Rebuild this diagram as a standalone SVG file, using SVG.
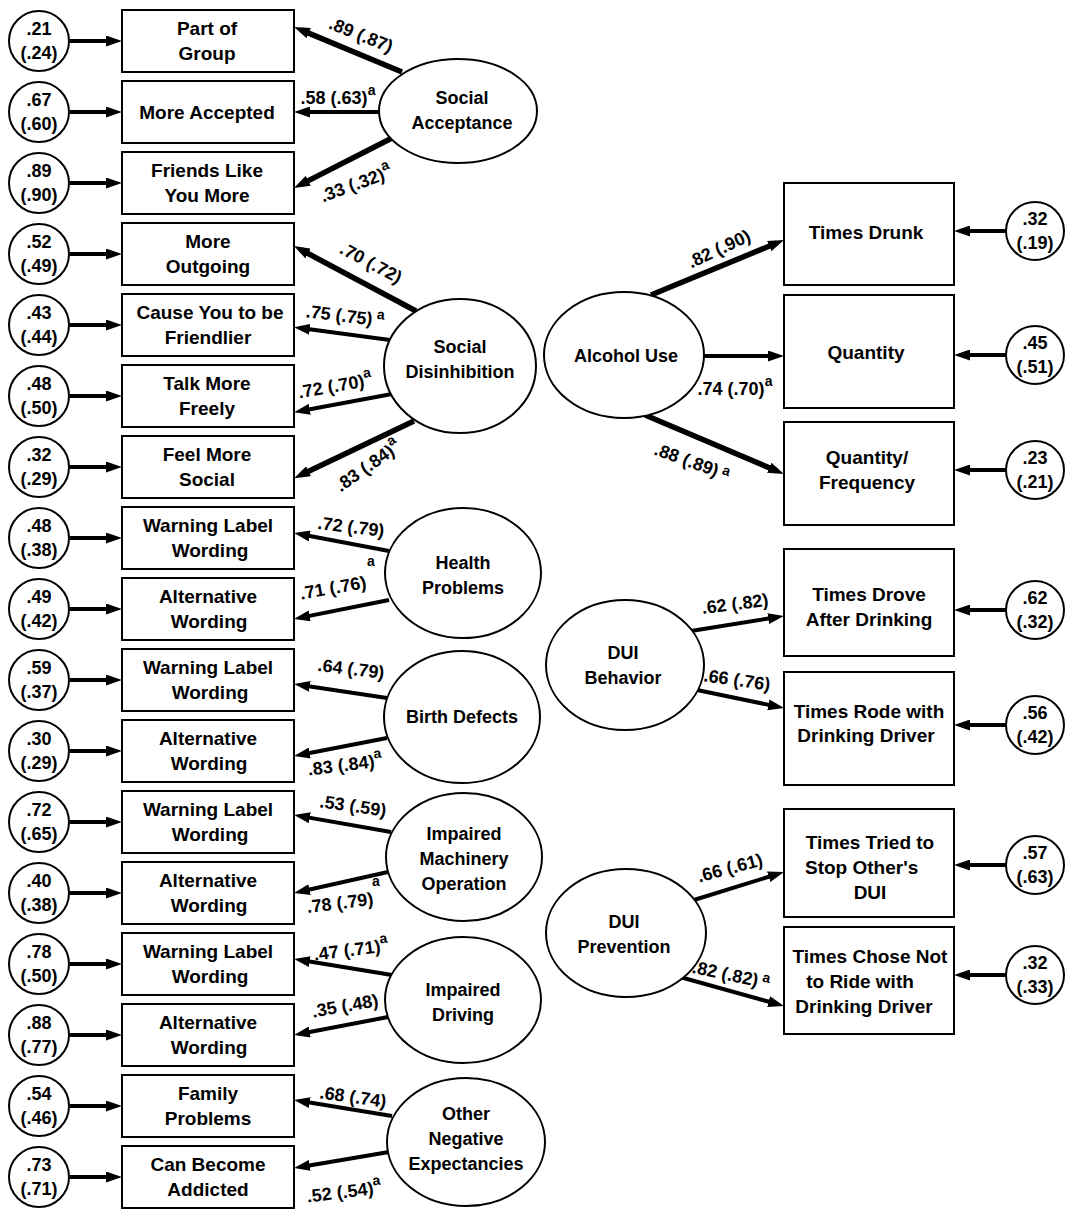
<svg xmlns="http://www.w3.org/2000/svg" width="1066" height="1209" viewBox="0 0 1066 1209">
<defs>
<style>
.box{fill:#fff;stroke:#000;stroke-width:2}
.lat{fill:#fff;stroke:#000;stroke-width:2}
.err{fill:#fff;stroke:#000;stroke-width:2}
.t{font-family:"Liberation Sans",Arial,sans-serif;font-weight:bold;font-size:19px;fill:#000;text-anchor:middle}
.tl{font-family:"Liberation Sans",Arial,sans-serif;font-weight:bold;font-size:18px;fill:#000;text-anchor:middle}
.te{font-family:"Liberation Sans",Arial,sans-serif;font-weight:bold;font-size:18px;fill:#000;text-anchor:middle}
.lab{font-family:"Liberation Sans",Arial,sans-serif;font-weight:bold;font-size:18px;fill:#000;text-anchor:middle}
.sup{font-size:14px}
.c{fill:none;stroke:#000;stroke-width:4}
.ck{fill:none;stroke:#000;stroke-width:5.5}
</style>
<marker id="ah" viewBox="0 0 16 11" refX="8" refY="5.5" markerWidth="16" markerHeight="11" markerUnits="userSpaceOnUse" orient="auto">
<path d="M0,0 L16,5.5 L0,11 z" fill="#000"/>
</marker>
</defs>
<rect width="1066" height="1209" fill="#fff"/>

<g id="connectors">
<path class="c" marker-end="url(#ah)" d="M70,41 H114"/>
<path class="c" marker-end="url(#ah)" d="M70,112 H114"/>
<path class="c" marker-end="url(#ah)" d="M70,183 H114"/>
<path class="c" marker-end="url(#ah)" d="M70,254 H114"/>
<path class="c" marker-end="url(#ah)" d="M70,325 H114"/>
<path class="c" marker-end="url(#ah)" d="M70,396 H114"/>
<path class="c" marker-end="url(#ah)" d="M70,467 H114"/>
<path class="c" marker-end="url(#ah)" d="M70,538 H114"/>
<path class="c" marker-end="url(#ah)" d="M70,609 H114"/>
<path class="c" marker-end="url(#ah)" d="M70,680 H114"/>
<path class="c" marker-end="url(#ah)" d="M70,751 H114"/>
<path class="c" marker-end="url(#ah)" d="M70,822 H114"/>
<path class="c" marker-end="url(#ah)" d="M70,893 H114"/>
<path class="c" marker-end="url(#ah)" d="M70,964 H114"/>
<path class="c" marker-end="url(#ah)" d="M70,1035 H114"/>
<path class="c" marker-end="url(#ah)" d="M70,1106 H114"/>
<path class="c" marker-end="url(#ah)" d="M70,1177 H114"/>
<path class="c" marker-end="url(#ah)" d="M1006,231 H962"/>
<path class="c" marker-end="url(#ah)" d="M1006,355 H962"/>
<path class="c" marker-end="url(#ah)" d="M1006,470 H962"/>
<path class="c" marker-end="url(#ah)" d="M1006,610 H962"/>
<path class="c" marker-end="url(#ah)" d="M1006,725 H962"/>
<path class="c" marker-end="url(#ah)" d="M1006,865 H962"/>
<path class="c" marker-end="url(#ah)" d="M1006,975 H962"/>
<path class="ck" marker-end="url(#ah)" d="M402,72 L301.4,30.1"/>
<path class="c" marker-end="url(#ah)" d="M380,112 L302,112"/>
<path class="ck" marker-end="url(#ah)" d="M392,138 L301.1,184.4"/>
<path class="ck" marker-end="url(#ah)" d="M416,311 L301,249.8"/>
<path class="c" marker-end="url(#ah)" d="M390,340 L301.9,328.2"/>
<path class="c" marker-end="url(#ah)" d="M392,394 L301.9,410.7"/>
<path class="ck" marker-end="url(#ah)" d="M414,421 L301.3,474.7"/>
<path class="c" marker-end="url(#ah)" d="M389,551 L301.9,534.5"/>
<path class="c" marker-end="url(#ah)" d="M389,600 L301.8,617.4"/>
<path class="c" marker-end="url(#ah)" d="M387,698 L301.9,685.2"/>
<path class="c" marker-end="url(#ah)" d="M387,738 L301.9,754.5"/>
<path class="c" marker-end="url(#ah)" d="M391,832 L301.9,816.4"/>
<path class="c" marker-end="url(#ah)" d="M388,872 L301.8,891.3"/>
<path class="c" marker-end="url(#ah)" d="M392,975 L301.9,960.3"/>
<path class="c" marker-end="url(#ah)" d="M388,1017 L301.9,1033.5"/>
<path class="c" marker-end="url(#ah)" d="M392,1116 L301.9,1101.3"/>
<path class="c" marker-end="url(#ah)" d="M389,1152 L301.9,1166.7"/>
<path class="ck" marker-end="url(#ah)" d="M651,295 L776.6,243.1"/>
<path class="c" marker-end="url(#ah)" d="M704,356 L776,356"/>
<path class="ck" marker-end="url(#ah)" d="M645,415 L776.6,470.9"/>
<path class="c" marker-end="url(#ah)" d="M691,631 L776.1,617.3"/>
<path class="c" marker-end="url(#ah)" d="M697,690 L776.2,706.4"/>
<path class="c" marker-end="url(#ah)" d="M694,900 L776.4,874.4"/>
<path class="c" marker-end="url(#ah)" d="M680,977 L776.3,1003.8"/>
</g>

<g id="labels">
<text class="lab" x="361" y="41" transform="rotate(22 361 35)">.89 (.87)</text>
<text class="lab" x="338" y="104">.58 (.63)<tspan class="sup" dy="-9">a</tspan></text>
<text class="lab" x="356" y="190" transform="rotate(-20 356 184)">.33 (.32)<tspan class="sup" dy="-9">a</tspan></text>
<text class="lab" x="371" y="269" transform="rotate(28 371 263)">.70 (.72)</text>
<text class="lab" x="345" y="322" transform="rotate(7 345 316)">.75 (.75)<tspan class="sup" dy="-7"> a</tspan></text>
<text class="lab" x="335" y="392" transform="rotate(-10 335 386)">.72 (.70)<tspan class="sup" dy="-9">a</tspan></text>
<text class="lab" x="368" y="472" transform="rotate(-35 368 466)">.83 (.84)<tspan class="sup" dy="-9">a</tspan></text>
<text class="lab" x="351" y="533" transform="rotate(7 351 527)">.72 (.79)</text>
<text class="lab" x="371" y="566" style="font-size:14px">a</text>
<text class="lab" x="333" y="594" transform="rotate(-10 333 588)">.71 (.76)</text>
<text class="lab" x="351" y="675" transform="rotate(7 351 669)">.64 (.79)</text>
<text class="lab" x="345" y="771" transform="rotate(-7 345 765)">.83 (.84)<tspan class="sup" dy="-9">a</tspan></text>
<text class="lab" x="353" y="812" transform="rotate(8 353 806)">.53 (.59)</text>
<text class="lab" x="376" y="886" style="font-size:14px">a</text>
<text class="lab" x="340" y="909" transform="rotate(-7 340 903)">.78 (.79)</text>
<text class="lab" x="351" y="956" transform="rotate(-7 351 950)">.47 (.71)<tspan class="sup" dy="-9">a</tspan></text>
<text class="lab" x="345" y="1012" transform="rotate(-10 345 1006)">.35 (.48)</text>
<text class="lab" x="353" y="1103" transform="rotate(8 353 1097)">.68 (.74)</text>
<text class="lab" x="344" y="1198" transform="rotate(-7 344 1192)">.52 (.54)<tspan class="sup" dy="-9">a</tspan></text>
<text class="lab" x="719" y="255" transform="rotate(-25 719 249)">.82 (.90)</text>
<text class="lab" x="735" y="395">.74 (.70)<tspan class="sup" dy="-9">a</tspan></text>
<text class="lab" x="692" y="468" transform="rotate(20 692 462)">.88 (.89)<tspan class="sup" dy="-5"> a</tspan></text>
<text class="lab" x="735" y="610" transform="rotate(-7 735 604)">.62 (.82)</text>
<text class="lab" x="737" y="686" transform="rotate(8 737 680)">.66 (.76)</text>
<text class="lab" x="730" y="874" transform="rotate(-15 730 868)">.66 (.61)</text>
<text class="lab" x="731" y="981" transform="rotate(12 731 975)">.82 (.82)<tspan class="sup" dy="-6"> a</tspan></text>
</g>

<g id="e1"><circle class="err" cx="39" cy="41" r="30"/><text class="tl" x="39" y="35">.21</text><text class="tl" x="39" y="59">(.24)</text></g>
<g id="e2"><circle class="err" cx="39" cy="112" r="30"/><text class="tl" x="39" y="106">.67</text><text class="tl" x="39" y="130">(.60)</text></g>
<g id="e3"><circle class="err" cx="39" cy="183" r="30"/><text class="tl" x="39" y="177">.89</text><text class="tl" x="39" y="201">(.90)</text></g>
<g id="e4"><circle class="err" cx="39" cy="254" r="30"/><text class="tl" x="39" y="248">.52</text><text class="tl" x="39" y="272">(.49)</text></g>
<g id="e5"><circle class="err" cx="39" cy="325" r="30"/><text class="tl" x="39" y="319">.43</text><text class="tl" x="39" y="343">(.44)</text></g>
<g id="e6"><circle class="err" cx="39" cy="396" r="30"/><text class="tl" x="39" y="390">.48</text><text class="tl" x="39" y="414">(.50)</text></g>
<g id="e7"><circle class="err" cx="39" cy="467" r="30"/><text class="tl" x="39" y="461">.32</text><text class="tl" x="39" y="485">(.29)</text></g>
<g id="e8"><circle class="err" cx="39" cy="538" r="30"/><text class="tl" x="39" y="532">.48</text><text class="tl" x="39" y="556">(.38)</text></g>
<g id="e9"><circle class="err" cx="39" cy="609" r="30"/><text class="tl" x="39" y="603">.49</text><text class="tl" x="39" y="627">(.42)</text></g>
<g id="e10"><circle class="err" cx="39" cy="680" r="30"/><text class="tl" x="39" y="674">.59</text><text class="tl" x="39" y="698">(.37)</text></g>
<g id="e11"><circle class="err" cx="39" cy="751" r="30"/><text class="tl" x="39" y="745">.30</text><text class="tl" x="39" y="769">(.29)</text></g>
<g id="e12"><circle class="err" cx="39" cy="822" r="30"/><text class="tl" x="39" y="816">.72</text><text class="tl" x="39" y="840">(.65)</text></g>
<g id="e13"><circle class="err" cx="39" cy="893" r="30"/><text class="tl" x="39" y="887">.40</text><text class="tl" x="39" y="911">(.38)</text></g>
<g id="e14"><circle class="err" cx="39" cy="964" r="30"/><text class="tl" x="39" y="958">.78</text><text class="tl" x="39" y="982">(.50)</text></g>
<g id="e15"><circle class="err" cx="39" cy="1035" r="30"/><text class="tl" x="39" y="1029">.88</text><text class="tl" x="39" y="1053">(.77)</text></g>
<g id="e16"><circle class="err" cx="39" cy="1106" r="30"/><text class="tl" x="39" y="1100">.54</text><text class="tl" x="39" y="1124">(.46)</text></g>
<g id="e17"><circle class="err" cx="39" cy="1177" r="30"/><text class="tl" x="39" y="1171">.73</text><text class="tl" x="39" y="1195">(.71)</text></g>

<g id="b1"><rect class="box" x="122" y="10" width="172" height="62"/><text class="t" x="207" y="35">Part of</text><text class="t" x="207" y="60">Group</text></g>
<g id="b2"><rect class="box" x="122" y="81" width="172" height="62"/><text class="t" x="207" y="119">More Accepted</text></g>
<g id="b3"><rect class="box" x="122" y="152" width="172" height="62"/><text class="t" x="207" y="177">Friends Like</text><text class="t" x="207" y="202">You More</text></g>
<g id="b4"><rect class="box" x="122" y="223" width="172" height="62"/><text class="t" x="208" y="248">More</text><text class="t" x="208" y="273">Outgoing</text></g>
<g id="b5"><rect class="box" x="122" y="294" width="172" height="62"/><text class="t" x="210" y="319">Cause You to be</text><text class="t" x="208" y="344">Friendlier</text></g>
<g id="b6"><rect class="box" x="122" y="365" width="172" height="62"/><text class="t" x="207" y="390">Talk More</text><text class="t" x="207" y="415">Freely</text></g>
<g id="b7"><rect class="box" x="122" y="436" width="172" height="62"/><text class="t" x="207" y="461">Feel More</text><text class="t" x="207" y="486">Social</text></g>
<g id="b8"><rect class="box" x="122" y="507" width="172" height="62"/><text class="t" x="208" y="532">Warning Label</text><text class="t" x="210" y="557">Wording</text></g>
<g id="b9"><rect class="box" x="122" y="578" width="172" height="62"/><text class="t" x="208" y="603">Alternative</text><text class="t" x="209" y="628">Wording</text></g>
<g id="b10"><rect class="box" x="122" y="649" width="172" height="62"/><text class="t" x="208" y="674">Warning Label</text><text class="t" x="210" y="699">Wording</text></g>
<g id="b11"><rect class="box" x="122" y="720" width="172" height="62"/><text class="t" x="208" y="745">Alternative</text><text class="t" x="209" y="770">Wording</text></g>
<g id="b12"><rect class="box" x="122" y="791" width="172" height="62"/><text class="t" x="208" y="816">Warning Label</text><text class="t" x="210" y="841">Wording</text></g>
<g id="b13"><rect class="box" x="122" y="862" width="172" height="62"/><text class="t" x="208" y="887">Alternative</text><text class="t" x="209" y="912">Wording</text></g>
<g id="b14"><rect class="box" x="122" y="933" width="172" height="62"/><text class="t" x="208" y="958">Warning Label</text><text class="t" x="210" y="983">Wording</text></g>
<g id="b15"><rect class="box" x="122" y="1004" width="172" height="62"/><text class="t" x="208" y="1029">Alternative</text><text class="t" x="209" y="1054">Wording</text></g>
<g id="b16"><rect class="box" x="122" y="1075" width="172" height="62"/><text class="t" x="208" y="1100">Family</text><text class="t" x="208" y="1125">Problems</text></g>
<g id="b17"><rect class="box" x="122" y="1146" width="172" height="62"/><text class="t" x="208" y="1171">Can Become</text><text class="t" x="208" y="1196">Addicted</text></g>

<g id="socialAcceptance"><ellipse class="lat" cx="458" cy="111" rx="79" ry="52"/><text class="te" x="462" y="104">Social</text><text class="te" x="462" y="129">Acceptance</text></g>
<g id="socialDisinhibition"><ellipse class="lat" cx="460" cy="366" rx="76" ry="67"/><text class="te" x="460" y="353">Social</text><text class="te" x="460" y="378">Disinhibition</text></g>
<g id="healthProblems"><ellipse class="lat" cx="463" cy="573" rx="78" ry="65"/><text class="te" x="463" y="569">Health</text><text class="te" x="463" y="594">Problems</text></g>
<g id="birthDefects"><ellipse class="lat" cx="462" cy="717" rx="78" ry="66"/><text class="te" x="462" y="723">Birth Defects</text></g>
<g id="impairedMachinery"><ellipse class="lat" cx="464" cy="857" rx="78" ry="64"/><text class="te" x="464" y="840">Impaired</text><text class="te" x="464" y="865">Machinery</text><text class="te" x="464" y="890">Operation</text></g>
<g id="impairedDriving"><ellipse class="lat" cx="463" cy="1000" rx="78" ry="63"/><text class="te" x="463" y="996">Impaired</text><text class="te" x="463" y="1021">Driving</text></g>
<g id="otherNegative"><ellipse class="lat" cx="466" cy="1142" rx="79" ry="64"/><text class="te" x="466" y="1120">Other</text><text class="te" x="466" y="1145">Negative</text><text class="te" x="466" y="1170">Expectancies</text></g>

<g id="alcoholUse"><ellipse class="lat" cx="624" cy="355" rx="80" ry="63"/><text class="te" x="626" y="362">Alcohol Use</text></g>
<g id="duiBehavior"><ellipse class="lat" cx="625" cy="665" rx="79" ry="65"/><text class="te" x="623" y="659">DUI</text><text class="te" x="623" y="684">Behavior</text></g>
<g id="duiPrevention"><ellipse class="lat" cx="626" cy="933" rx="80" ry="64"/><text class="te" x="624" y="928">DUI</text><text class="te" x="624" y="953">Prevention</text></g>

<g id="timesDrunk"><rect class="box" x="784" y="183" width="170" height="102"/><text class="t" x="866" y="239">Times Drunk</text></g>
<g id="quantity"><rect class="box" x="784" y="295" width="170" height="113"/><text class="t" x="866" y="359">Quantity</text></g>
<g id="quantityFrequency"><rect class="box" x="784" y="422" width="170" height="103"/><text class="t" x="867" y="464">Quantity/</text><text class="t" x="867" y="489">Frequency</text></g>
<g id="timesDrove"><rect class="box" x="784" y="549" width="170" height="107"/><text class="t" x="869" y="601">Times Drove</text><text class="t" x="869" y="626">After Drinking</text></g>
<g id="timesRode"><rect class="box" x="784" y="672" width="170" height="113"/><text class="t" x="869" y="718">Times Rode with</text><text class="t" x="866" y="742">Drinking Driver</text></g>
<g id="timesTried"><rect class="box" x="784" y="809" width="170" height="108"/><text class="t" x="870" y="849">Times Tried to</text><text class="t" x="805" y="874" style="text-anchor:start">Stop Other's</text><text class="t" x="870" y="899">DUI</text></g>
<g id="timesChose"><rect class="box" x="784" y="927" width="170" height="107"/><text class="t" x="870" y="963">Times Chose Not</text><text class="t" x="860" y="988">to Ride with</text><text class="t" x="864" y="1013">Drinking Driver</text></g>

<g id="r1"><circle class="err" cx="1035" cy="231" r="29"/><text class="tl" x="1035" y="225">.32</text><text class="tl" x="1035" y="249">(.19)</text></g>
<g id="r2"><circle class="err" cx="1035" cy="355" r="29"/><text class="tl" x="1035" y="349">.45</text><text class="tl" x="1035" y="373">(.51)</text></g>
<g id="r3"><circle class="err" cx="1035" cy="470" r="29"/><text class="tl" x="1035" y="464">.23</text><text class="tl" x="1035" y="488">(.21)</text></g>
<g id="r4"><circle class="err" cx="1035" cy="610" r="29"/><text class="tl" x="1035" y="604">.62</text><text class="tl" x="1035" y="628">(.32)</text></g>
<g id="r5"><circle class="err" cx="1035" cy="725" r="29"/><text class="tl" x="1035" y="719">.56</text><text class="tl" x="1035" y="743">(.42)</text></g>
<g id="r6"><circle class="err" cx="1035" cy="865" r="29"/><text class="tl" x="1035" y="859">.57</text><text class="tl" x="1035" y="883">(.63)</text></g>
<g id="r7"><circle class="err" cx="1035" cy="975" r="29"/><text class="tl" x="1035" y="969">.32</text><text class="tl" x="1035" y="993">(.33)</text></g>
</svg>
